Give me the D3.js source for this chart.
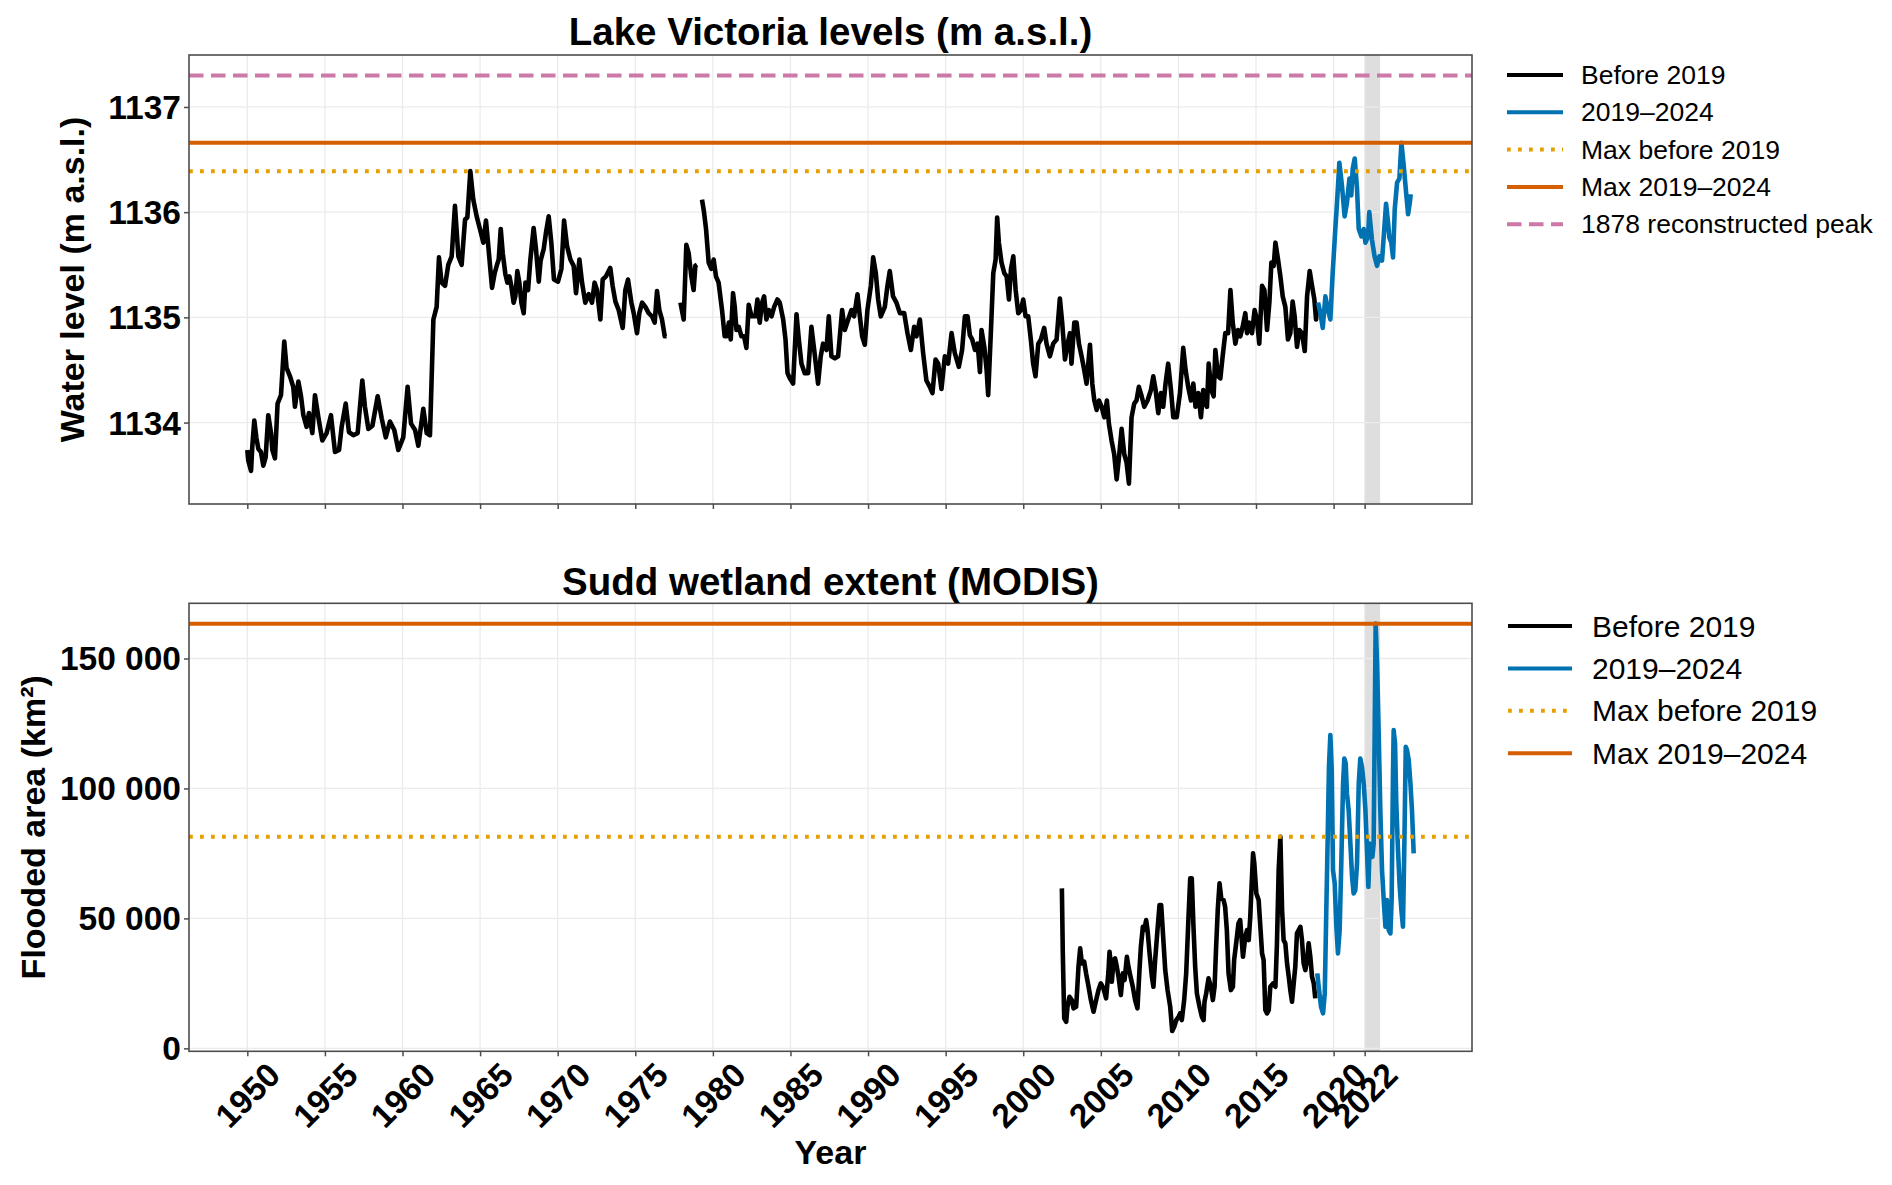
<!DOCTYPE html>
<html>
<head>
<meta charset="utf-8">
<script src="https://cdn.jsdelivr.net/npm/d3@7"></script>
<style>
  html, body { margin: 0; padding: 0; background: #ffffff; }
  svg { display: block; }
  text { font-family: "Liberation Sans", Arial, Helvetica, sans-serif; }
</style>
</head>
<body>
<svg id="chart" width="1892" height="1185"></svg>
<script>
// ---------------- DATA ----------------
// Lake Victoria water level, m a.s.l. : [decimal year, level]; null = gap in record
const victoriaBefore = [
[1950.00,1133.74],[1950.06,1133.64],[1950.24,1133.54],[1950.32,1133.77],[1950.45,1134.02],[1950.58,1133.86],[1950.71,1133.75],[1950.88,1133.72],[1951.03,1133.59],[1951.18,1133.67],[1951.35,1134.07],[1951.53,1133.90],[1951.61,1133.74],[1951.78,1133.66],[1951.95,1134.18],[1952.17,1134.26],[1952.38,1134.77],[1952.53,1134.52],[1952.75,1134.44],[1952.96,1134.34],[1953.07,1134.15],[1953.29,1134.39],[1953.46,1134.25],[1953.61,1134.07],[1953.82,1133.96],[1953.97,1134.09],[1954.19,1133.90],[1954.36,1134.26],[1954.58,1134.05],[1954.83,1133.83],[1955.11,1133.90],[1955.39,1134.07],[1955.65,1133.72],[1955.91,1133.74],[1956.08,1133.96],[1956.34,1134.18],[1956.55,1133.91],[1956.83,1133.88],[1957.11,1133.90],[1957.41,1134.40],[1957.58,1134.15],[1957.80,1133.94],[1958.06,1133.97],[1958.40,1134.25],[1958.66,1134.04],[1958.92,1133.86],[1959.19,1134.01],[1959.47,1133.93],[1959.73,1133.74],[1960.05,1133.86],[1960.33,1134.34],[1960.55,1133.99],[1960.81,1133.93],[1961.02,1133.78],[1961.34,1134.13],[1961.56,1133.90],[1961.77,1133.88],[1961.99,1134.98],[1962.20,1135.10],[1962.35,1135.57],[1962.52,1135.33],[1962.74,1135.30],[1962.95,1135.50],[1963.17,1135.58],[1963.38,1136.06],[1963.60,1135.58],[1963.81,1135.50],[1964.03,1135.93],[1964.18,1135.95],[1964.37,1136.39],[1964.56,1136.12],[1964.78,1135.96],[1964.99,1135.84],[1965.21,1135.71],
[1965.38,1135.92],[1965.51,1135.71],[1965.66,1135.46],[1965.77,1135.28],[1965.94,1135.42],[1966.09,1135.50],[1966.20,1135.55],[1966.33,1135.84],[1966.46,1135.61],[1966.63,1135.41],[1966.76,1135.33],[1966.89,1135.39],[1967.01,1135.30],[1967.16,1135.14],[1967.27,1135.20],[1967.40,1135.44],[1967.53,1135.33],[1967.66,1135.14],[1967.81,1135.04],[1967.92,1135.33],[1968.09,1135.26],[1968.24,1135.55],[1968.45,1135.85],[1968.60,1135.65],[1968.78,1135.34],[1968.90,1135.54],[1969.10,1135.65],[1969.25,1135.81],[1969.42,1135.96],[1969.59,1135.71],[1969.76,1135.36],[1970.02,1135.34],[1970.24,1135.46],[1970.41,1135.92],[1970.60,1135.68],[1970.82,1135.55],[1971.03,1135.49],[1971.18,1135.23],[1971.40,1135.55],[1971.57,1135.33],[1971.78,1135.14],[1972.00,1135.22],[1972.21,1135.14],[1972.38,1135.33],[1972.53,1135.26],[1972.75,1134.98],[1972.90,1135.36],[1973.11,1135.39],[1973.39,1135.47],[1973.54,1135.30],[1973.72,1135.15],[1973.93,1135.07],[1974.19,1134.90],[1974.36,1135.26],[1974.53,1135.36],[1974.75,1135.14],[1974.90,1135.04],[1975.11,1134.85],[1975.26,1135.04],[1975.44,1135.14],[1975.65,1135.10],[1975.86,1135.04],[1976.08,1135.01],[1976.25,1134.95],[1976.40,1135.25],[1976.55,1135.07],[1976.72,1134.98],[1976.90,1134.82],[1977.02,1134.82],
[1977.45,null],
[1977.91,1135.14],[1978.12,1134.98],[1978.29,1135.69],[1978.44,1135.61],[1978.61,1135.39],[1978.76,1135.26],[1978.87,1135.49],[1978.98,1135.50],
[1979.15,null],
[1979.30,1136.12],[1979.43,1136.00],[1979.56,1135.84],[1979.73,1135.52],[1979.90,1135.46],[1980.05,1135.55],[1980.20,1135.39],[1980.37,1135.33],[1980.59,1135.07],[1980.76,1134.82],
[1980.88,1134.82],[1981.03,1134.95],[1981.15,1134.79],[1981.30,1135.23],[1981.41,1135.10],[1981.52,1134.88],[1981.67,1134.91],[1981.84,1134.82],[1982.01,1134.82],[1982.16,1134.71],[1982.31,1135.12],[1982.49,1135.01],[1982.74,1135.01],[1982.87,1135.17],[1983.02,1134.95],[1983.17,1135.14],[1983.30,1135.20],[1983.45,1134.98],[1983.60,1135.07],[1983.78,1135.01],[1983.95,1135.10],[1984.16,1135.17],[1984.31,1135.14],[1984.53,1134.98],[1984.68,1134.79],[1984.81,1134.47],[1984.96,1134.42],[1985.17,1134.37],[1985.39,1135.03],[1985.54,1134.79],[1985.71,1134.56],[1985.92,1134.47],[1986.14,1134.47],[1986.35,1134.91],[1986.53,1134.69],[1986.78,1134.37],[1986.95,1134.63],[1987.10,1134.75],[1987.32,1134.69],[1987.47,1135.01],[1987.64,1134.63],[1987.86,1134.61],[1988.07,1134.63],[1988.33,1135.07],[1988.50,1134.88],[1988.72,1134.98],[1988.93,1135.07],[1989.10,1135.01],[1989.32,1135.22],[1989.47,1135.01],[1989.62,1134.82],[1989.79,1134.74],[1989.96,1135.07],[1990.18,1135.30],[1990.33,1135.57],[1990.50,1135.42],[1990.65,1135.17],[1990.82,1135.01],[1991.08,1135.10],[1991.25,1135.30],[1991.40,1135.44],[1991.61,1135.20],[1991.83,1135.14],[1992.05,1135.04],[1992.33,1135.04],[1992.54,1134.85],[1992.76,1134.69],[1992.97,1134.91],[1993.12,1134.82],[1993.34,1134.98],[1993.55,1134.66],[1993.76,1134.40],[1993.98,1134.34],[1994.15,1134.28],[1994.35,1134.60],[1994.52,1134.56],[1994.73,1134.32],[1994.95,1134.63],[1995.16,1134.56],[1995.38,1134.85],[1995.59,1134.66],[1995.85,1134.53],[1996.06,1134.69],[1996.24,1135.01],
[1996.41,1135.01],[1996.56,1134.83],[1996.71,1134.79],[1996.89,1134.69],[1997.06,1134.75],[1997.21,1134.48],[1997.31,1134.88],[1997.49,1134.72],[1997.64,1134.50],[1997.74,1134.26],[1997.92,1134.88],[1998.07,1135.42],[1998.22,1135.55],[1998.32,1135.95],[1998.43,1135.71],[1998.60,1135.52],[1998.78,1135.42],[1998.93,1135.39],[1999.08,1135.17],[1999.21,1135.46],[1999.36,1135.58],[1999.51,1135.26],[1999.68,1135.04],[1999.85,1135.07],[2000.00,1135.17],[2000.15,1135.01],[2000.32,1135.01],[2000.49,1134.79],[2000.64,1134.56],[2000.79,1134.44],[2000.97,1134.75],[2001.14,1134.79],[2001.35,1134.90],[2001.50,1134.75],[2001.72,1134.63],[2001.93,1134.75],[2002.15,1134.79],[2002.36,1135.18],[2002.51,1134.95],[2002.69,1134.60],[2002.86,1134.75],[2003.01,1134.85],[2003.11,1134.56],[2003.29,1134.95],[2003.44,1134.95],[2003.59,1134.75],[2003.76,1134.63],[2003.93,1134.50],[2004.08,1134.37],[2004.30,1134.74],[2004.45,1134.37],[2004.58,1134.21],[2004.73,1134.12],[2004.88,1134.21],[2005.05,1134.15],[2005.22,1134.05],[2005.39,1134.21],[2005.52,1133.99],[2005.69,1133.83],[2005.86,1133.70],[2006.02,1133.46],[2006.17,1133.67],[2006.34,1133.94],[2006.51,1133.70],[2006.66,1133.62],[2006.81,1133.42],[2006.98,1134.05],[2007.15,1134.18],[2007.30,1134.21],[2007.45,1134.34],[2007.63,1134.25],[2007.80,1134.15],[2008.01,1134.21],[2008.23,1134.31],[2008.38,1134.44],[2008.53,1134.31],[2008.70,1134.09],[2008.87,1134.28],[2009.02,1134.15],[2009.17,1134.37],[2009.34,1134.56],[2009.52,1134.31],[2009.67,1134.05],[2009.89,1134.05],[2010.10,1134.28],[2010.31,1134.71],[2010.46,1134.50],[2010.63,1134.34],[2010.81,1134.21],[2010.96,1134.37],[2011.10,1134.15],[2011.28,1134.28],[2011.45,1134.05],[2011.60,1134.31],
[2011.73,1134.18],[2011.84,1134.15],[2011.95,1134.56],[2012.12,1134.31],[2012.27,1134.25],[2012.38,1134.69],[2012.55,1134.44],[2012.70,1134.42],[2012.85,1134.63],[2013.02,1134.85],[2013.20,1134.85],[2013.35,1135.26],[2013.50,1134.95],[2013.67,1134.75],[2013.84,1134.88],[2013.99,1134.82],[2014.14,1134.91],[2014.31,1135.04],[2014.42,1134.85],[2014.57,1134.95],[2014.74,1134.85],[2014.91,1135.07],[2015.06,1134.98],[2015.21,1134.75],[2015.39,1135.30],[2015.54,1135.26],[2015.71,1134.88],[2015.86,1135.14],[2015.99,1135.52],[2016.14,1135.49],[2016.25,1135.71],[2016.42,1135.55],[2016.57,1135.39],[2016.72,1135.20],[2016.89,1135.10],[2017.06,1134.79],[2017.21,1134.85],[2017.36,1135.15],[2017.49,1135.01],[2017.64,1134.72],[2017.79,1134.88],[2017.96,1134.85],[2018.14,1134.68],[2018.29,1135.20],[2018.46,1135.44],[2018.61,1135.30],[2018.76,1135.17],[2018.87,1134.98],[2018.96,1135.14]
];
const victoriaRecent = [
[2019.00,1135.14],[2019.15,1135.04],[2019.30,1134.90],[2019.47,1135.20],[2019.64,1135.07],[2019.79,1134.98],[2019.94,1135.42],[2020.11,1135.84],[2020.22,1136.09],[2020.37,1136.47],[2020.54,1136.25],[2020.71,1135.96],[2020.86,1136.09],[2021.02,1136.32],[2021.14,1136.16],[2021.23,1136.41],[2021.36,1136.51],[2021.51,1136.22],[2021.62,1135.84],[2021.79,1135.77],[2021.94,1135.84],[2022.05,1135.71],[2022.22,1135.77],[2022.30,1136.00],[2022.47,1135.74],[2022.64,1135.58],[2022.80,1135.49],[2022.95,1135.58],[2023.12,1135.54],[2023.23,1135.77],[2023.38,1136.08],[2023.51,1135.90],[2023.59,1135.76],[2023.72,1135.71],[2023.83,1135.57],[2023.94,1136.03],[2024.09,1136.28],[2024.24,1136.32],[2024.37,1136.66],[2024.52,1136.44],[2024.67,1136.19],[2024.80,1135.98],[2024.91,1136.09],[2024.97,1136.17]
];
const victoria1878Peak = 1137.30;

// Sudd flooded area, km² : [decimal year, area]
const suddBefore = [
[2002.49,61540],[2002.55,36540],[2002.64,11540],[2002.77,10230],[2002.85,16000],[2002.98,19850],[2003.13,18580],[2003.24,15380],[2003.41,16000],[2003.56,31380],[2003.67,38460],[2003.78,32690],[2003.93,33310],[2004.05,28850],[2004.21,23690],[2004.36,18580],[2004.53,14080],[2004.70,18580],[2004.85,22420],[2005.00,25000],[2005.17,23080],[2005.34,19230],[2005.49,29460],[2005.56,37150],[2005.64,32690],[2005.71,25610],[2005.82,33960],[2005.92,34610],[2006.03,31380],[2006.14,27540],[2006.29,20500],[2006.42,28850],[2006.53,26270],[2006.68,35230],[2006.78,31380],[2006.89,28190],[2007.06,23690],[2007.21,18580],[2007.36,15380],[2007.49,30110],[2007.58,39080],[2007.71,46770],[2007.79,45500],[2007.92,49340],[2008.01,45500],[2008.14,36540],[2008.29,27540],[2008.39,23690],[2008.50,33960],[2008.65,45500],[2008.78,55110],[2008.89,55110],[2008.99,45500],[2009.15,30110],[2009.30,22420],[2009.47,16000],[2009.60,6700],[2009.73,8310],[2009.86,10880],[2010.01,12150],[2010.11,13460],[2010.22,10880],[2010.37,18580],[2010.50,28850],[2010.65,50610],[2010.76,65380],[2010.86,65380],[2010.97,46770],[2011.08,31380],[2011.19,21150],[2011.36,16000],[2011.51,12150],[2011.62,10880],[2011.68,17920],[2011.79,21150],[2011.94,26920],[2012.09,23690],[2012.22,18580],[2012.33,23690],[2012.43,39080],[2012.54,53840],[2012.65,63460],[2012.76,57690],[2012.91,57040],[2013.01,54460],[2013.12,45500],[2013.23,28850],[2013.38,22420],[2013.51,23690],[2013.59,33960],[2013.72,40380],[2013.87,48080],[2013.98,49340],
[2014.03,45500],[2014.16,35230],[2014.31,42920],[2014.42,45500],[2014.53,41650],[2014.63,50610],[2014.74,66000],[2014.81,75000],[2014.89,71150],[2015.02,59610],[2015.17,57040],[2015.28,46770],[2015.39,36540],[2015.49,33960],[2015.60,14730],[2015.71,13460],[2015.82,14730],[2015.92,23690],[2016.10,25000],[2016.25,23690],[2016.35,40380],[2016.46,68570],[2016.57,81400],[2016.68,53190],[2016.78,41650],[2016.89,40380],[2017.00,32690],[2017.11,27540],[2017.21,22420],[2017.32,17920],[2017.43,25000],[2017.53,31380],[2017.64,44230],[2017.75,45500],[2017.86,46770],[2017.96,41650],[2018.07,32690],[2018.18,30110],[2018.29,33960],[2018.39,40380],[2018.50,35230],[2018.61,27540],[2018.72,25000],[2018.82,19230]
];
const suddRecent = [
[2018.95,28850],[2019.04,23690],[2019.19,16000],[2019.32,13460],[2019.43,21150],[2019.53,53190],[2019.62,81380],[2019.70,108300],[2019.79,120500],[2019.88,107000],[2019.96,68570],[2020.07,63460],[2020.18,46770],[2020.28,36540],[2020.39,45500],[2020.50,72420],[2020.61,101920],[2020.69,111530],[2020.78,109610],[2020.86,98070],[2020.97,91650],[2021.08,78840],[2021.19,66000],[2021.29,59610],[2021.40,60880],[2021.51,71150],[2021.62,101920],[2021.72,111530],[2021.83,108300],[2021.94,101920],[2022.05,91650],[2022.15,76270],[2022.24,62150],[2022.33,78840],[2022.41,77540],[2022.50,73690],[2022.58,78840],[2022.65,123690],[2022.71,163400],[2022.80,148070],[2022.91,119840],[2023.01,91650],[2023.12,68570],[2023.23,57040],[2023.34,46770],[2023.44,57040],[2023.55,45500],[2023.66,44230],[2023.74,57040],[2023.83,107000],[2023.87,122420],[2023.96,117300],[2024.04,94230],[2024.15,76270],[2024.26,62150],[2024.37,53190],[2024.47,46770],[2024.56,78840],[2024.65,116000],[2024.73,114730],[2024.84,110880],[2024.95,101920],[2025.05,91650],[2025.16,75000]
];

// Axis ticks and highlighted period
const yearTicks = [1950,1955,1960,1965,1970,1975,1980,1985,1990,1995,2000,2005,2010,2015,2020,2022];
const victoriaTicks = [1134,1135,1136,1137];
const suddTicks = [0,50000,100000,150000];
const highlightPeriod = [2022.0, 2023.0];
const legendLabels = ["Before 2019", "2019\u20132024", "Max before 2019", "Max 2019\u20132024", "1878 reconstructed peak"];

// ---------------- STYLE ----------------
const COL = {
  before: "#000000", recent: "#0072B2", maxBefore: "#E69F00",
  maxRecent: "#D55E00", peak: "#CC79A7", grid: "#ebebeb",
  shade: "#dedede", spine: "#4d4d4d"
};
const LW_DATA = 4.6, LW_HL = 4;
const DOT = "3.8,7.2", DASH = "14.5,7.5";
const PLOT_L = 189, PLOT_R = 1472;
const TICK_FS = 33.5;

const svg = d3.select("#chart");
svg.append("rect").attr("width", 1892).attr("height", 1185).attr("fill", "#fff");

// shared x scale (5% margins around all data, like matplotlib sharex)
const allYears = [...victoriaBefore, ...victoriaRecent, ...suddBefore, ...suddRecent].map(d => d[0]);
const [xa, xb] = d3.extent(allYears);
const xpad = (xb - xa) * 0.05;
const x = d3.scaleLinear().domain([xa - xpad, xb + xpad]).range([PLOT_L, PLOT_R]);

const spaceFmt = v => v === 0 ? "0" : d3.format(",")(v).replace(/,/g, " ");

function drawPanel(cfg) {
  const g = svg.append("g");
  const vals = [...cfg.series.flatMap(s => s.data.map(d => d[1])), ...cfg.hlines.map(h => h.value)]
    .filter(v => v != null);
  const [ya, yb] = d3.extent(vals);
  const ypad = (yb - ya) * 0.05;
  const y = d3.scaleLinear().domain([ya - ypad, yb + ypad]).range([cfg.bottom, cfg.top]);

  // shaded period
  g.append("rect")
    .attr("x", x(highlightPeriod[0])).attr("width", x(highlightPeriod[1]) - x(highlightPeriod[0]))
    .attr("y", cfg.top).attr("height", cfg.bottom - cfg.top)
    .attr("fill", COL.shade);

  // grid
  g.append("g").selectAll("line").data(yearTicks).join("line")
    .attr("x1", d => x(d)).attr("x2", d => x(d))
    .attr("y1", cfg.top).attr("y2", cfg.bottom)
    .attr("stroke", COL.grid).attr("stroke-width", 1.3);
  g.append("g").selectAll("line").data(cfg.yTicks).join("line")
    .attr("x1", PLOT_L).attr("x2", PLOT_R)
    .attr("y1", d => y(d)).attr("y2", d => y(d))
    .attr("stroke", COL.grid).attr("stroke-width", 1.3);

  // series
  const line = d3.line().defined(d => d[1] != null).x(d => x(d[0])).y(d => y(d[1]));
  cfg.series.forEach(s => {
    g.append("path").datum(s.data).attr("d", line)
      .attr("fill", "none").attr("stroke", s.color).attr("stroke-width", LW_DATA)
      .attr("stroke-linejoin", "round").attr("stroke-linecap", "butt");
  });

  // reference lines
  cfg.hlines.forEach(h => {
    g.append("line").attr("x1", PLOT_L).attr("x2", PLOT_R)
      .attr("y1", y(h.value)).attr("y2", y(h.value))
      .attr("stroke", h.color).attr("stroke-width", LW_HL)
      .attr("stroke-dasharray", h.dash || null);
  });

  // axes
  const gx = g.append("g").attr("transform", `translate(0,${cfg.bottom})`)
    .call(d3.axisBottom(x).tickValues(yearTicks).tickSize(5).tickPadding(4)
      .tickFormat(cfg.xLabels ? d3.format("d") : () => ""));
  gx.select(".domain").remove();
  gx.selectAll(".tick line").attr("stroke", COL.spine).attr("stroke-width", 1.5);
  gx.selectAll(".tick text")
    .attr("y", null).attr("dy", null)
    .attr("text-anchor", "middle").attr("dominant-baseline", "central")
    .attr("transform", "translate(0,44) rotate(-45)")
    .attr("font-size", TICK_FS).attr("font-weight", "bold").attr("fill", "#000");

  const gy = g.append("g").attr("transform", `translate(${PLOT_L},0)`)
    .call(d3.axisLeft(y).tickValues(cfg.yTicks).tickSize(5).tickPadding(3).tickFormat(cfg.yFormat));
  gy.select(".domain").remove();
  gy.selectAll(".tick line").attr("stroke", COL.spine).attr("stroke-width", 1.5);
  gy.selectAll(".tick text")
    .attr("dy", null).attr("dominant-baseline", "central")
    .attr("font-size", TICK_FS).attr("font-weight", "bold").attr("fill", "#000");

  // frame
  g.append("rect").attr("x", PLOT_L).attr("y", cfg.top)
    .attr("width", PLOT_R - PLOT_L).attr("height", cfg.bottom - cfg.top)
    .attr("fill", "none").attr("stroke", COL.spine).attr("stroke-width", 1.6);

  // title
  g.append("text").attr("x", (PLOT_L + PLOT_R) / 2).attr("y", cfg.titleY)
    .attr("text-anchor", "middle").attr("font-size", 38.5).attr("font-weight", "bold")
    .text(cfg.title);

  // y label
  g.append("text")
    .attr("transform", `translate(${cfg.ylabelX},${(cfg.top + cfg.bottom) / 2}) rotate(-90)`)
    .attr("text-anchor", "middle").attr("font-size", 34).attr("font-weight", "bold")
    .text(cfg.ylabel);

  // legend
  const L = cfg.legend;
  const lg = g.append("g");
  L.items.forEach((it, i) => {
    const cy = L.y0 + i * L.dy;
    lg.append("line").attr("x1", L.x0).attr("x2", L.x0 + L.len)
      .attr("y1", cy).attr("y2", cy)
      .attr("stroke", it.color).attr("stroke-width", LW_HL)
      .attr("stroke-dasharray", it.dash || null);
    lg.append("text").attr("x", L.tx).attr("y", cy)
      .attr("dominant-baseline", "central").attr("font-size", L.fs)
      .text(it.label);
  });
  return { y };
}

const vMaxBefore = d3.max(victoriaBefore, d => d[1]);
const vMaxRecent = d3.max(victoriaRecent, d => d[1]);
const sMaxBefore = d3.max(suddBefore, d => d[1]);
const sMaxRecent = d3.max(suddRecent, d => d[1]);

const legendItems = [
  { label: legendLabels[0], color: COL.before },
  { label: legendLabels[1], color: COL.recent },
  { label: legendLabels[2], color: COL.maxBefore, dash: DOT },
  { label: legendLabels[3], color: COL.maxRecent },
  { label: legendLabels[4], color: COL.peak, dash: DASH }
];

drawPanel({
  top: 55, bottom: 504,
  title: "Lake Victoria levels (m a.s.l.)", titleY: 45,
  ylabel: "Water level (m a.s.l.)", ylabelX: 84,
  yTicks: victoriaTicks, yFormat: d3.format("d"),
  xLabels: false,
  series: [
    { data: victoriaBefore, color: COL.before },
    { data: victoriaRecent, color: COL.recent }
  ],
  hlines: [
    { value: vMaxBefore, color: COL.maxBefore, dash: DOT },
    { value: vMaxRecent, color: COL.maxRecent },
    { value: victoria1878Peak, color: COL.peak, dash: DASH }
  ],
  legend: { x0: 1507, len: 56, tx: 1581, y0: 75, dy: 37.3, fs: 26.5, items: legendItems }
});

drawPanel({
  top: 603.3, bottom: 1051.3,
  title: "Sudd wetland extent (MODIS)", titleY: 595,
  ylabel: "Flooded area (km\u00b2)", ylabelX: 45,
  yTicks: suddTicks, yFormat: spaceFmt,
  xLabels: true,
  series: [
    { data: suddBefore, color: COL.before },
    { data: suddRecent, color: COL.recent }
  ],
  hlines: [
    { value: sMaxBefore, color: COL.maxBefore, dash: DOT },
    { value: sMaxRecent, color: COL.maxRecent }
  ],
  legend: { x0: 1508, len: 64, tx: 1592, y0: 626, dy: 42.4, fs: 30, items: legendItems.slice(0, 4) }
});

// x axis label
svg.append("text").attr("x", (PLOT_L + PLOT_R) / 2).attr("y", 1164)
  .attr("text-anchor", "middle").attr("font-size", 34).attr("font-weight", "bold")
  .text("Year");
</script>
</body>
</html>
